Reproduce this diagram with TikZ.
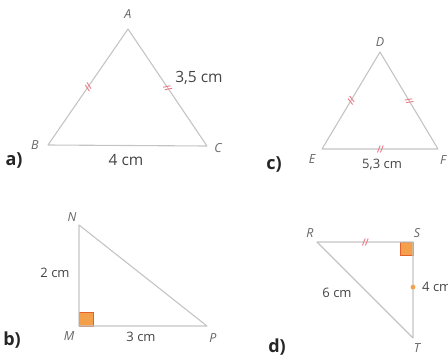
\documentclass[tikz,border=0pt]{standalone}
\usepackage{fontspec}
\setmainfont{Open Sans}
\usetikzlibrary{decorations.markings,calc}
\definecolor{edge}{HTML}{C4C4C4}
\definecolor{txt}{HTML}{444444}
\definecolor{vtx}{HTML}{666666}
\definecolor{tk}{HTML}{EE7A86}
\definecolor{sqfill}{HTML}{F4A04A}
\definecolor{sqdraw}{HTML}{E4602C}
\tikzset{
  tri/.style={draw=edge, line width=1.1pt, line join=round},
  vlab/.style={text=vtx, font=\itshape\fontsize{12.5}{12.5}\selectfont, inner sep=0pt},
  meas/.style={text=txt, font=\fontsize{15.5}{15.5}\selectfont, inner sep=0pt},
  measS/.style={text=txt, font=\fontsize{13}{13}\selectfont, inner sep=0pt},
  part/.style={text=black!85, font=\bfseries\fontsize{18}{18}\selectfont, inner sep=0pt},
  dticks/.style={postaction={decorate}, decoration={markings,
     mark=at position 0.5 with {\draw[tk, line width=0.9pt] (-2.6pt,-3.5pt)--(0.2pt,3.5pt) (0.4pt,-3.5pt)--(3.2pt,3.5pt);}}},
  sticks/.style={postaction={decorate}, decoration={markings,
     mark=at position #1 with {\fill[sqfill] (0,0) circle (2.4pt);}}},
  rsq/.style={fill=sqfill, draw=sqdraw, line width=0.8pt}
}
\begin{document}
\begin{tikzpicture}[x=1pt,y=-1pt]
\useasboundingbox (0,0) rectangle (448,360);
% ---- a)
\coordinate (A) at (128,29);
\coordinate (B) at (48,145);
\coordinate (C) at (207,146);
\draw[tri] (A) -- (B) -- (C) -- cycle;
\path[dticks] (B) -- (A);
\path[dticks] (A) -- (C);
\node[vlab] (lA) at (128,14) {A};
\node[vlab] (lB) at (35,145) {B};
\node[vlab] (lC) at (218,148) {C};
\node[meas] (mAC) at (199,78) {3,5 cm};
\node[meas] (mBC) at (126,160) {4 cm};
\node[part] (pa) at (14,160) {a)};
% ---- c)
\coordinate (D) at (380,52);
\coordinate (E) at (322,149);
\coordinate (F) at (438,149);
\draw[tri] (D) -- (E) -- (F) -- cycle;
\path[dticks] (E) -- (D);
\path[dticks] (D) -- (F);
\path[dticks] (E) -- (F);
\node[vlab] (lD) at (380,42) {D};
\node[vlab] (lE) at (312,159) {E};
\node[vlab] (lF) at (443,160) {F};
\node[measS] (mEF) at (382,165) {5,3 cm};
\node[part] (pc) at (274,164) {c)};
% ---- b)
\coordinate (N) at (79,225);
\coordinate (M) at (79,326);
\coordinate (P) at (207,326);
\draw[rsq] (M) rectangle ++(14,-14);
\draw[tri] (N) -- (M) -- (P) -- cycle;
\node[vlab] (lN) at (72,217) {N};
\node[vlab] (lM) at (69,336) {M};
\node[vlab] (lP) at (213,338) {P};
\node[measS] (mNM) at (55,273) {2 cm};
\node[measS] (mMP) at (141,337) {3 cm};
\node[part] (pb) at (12,340) {b)};
% ---- d)
\coordinate (R) at (317,242);
\coordinate (S) at (413,242);
\coordinate (T) at (413,338);
\draw[rsq] (S) rectangle ++(-13,13);
\draw[tri] (R) -- (S) -- (T) -- cycle;
\path[dticks] (R) -- (S);
\path[sticks=0.47] (S) -- (T);
\node[vlab] (lR) at (310,233) {R};
\node[vlab] (lS) at (417,233) {S};
\node[vlab] (lT) at (417,348) {T};
\node[measS] (mRT) at (337,293) {6 cm};
\node[measS, anchor=west] (mST) at (422,287) {4 cm};
\node[part] (pd) at (277,347) {d)};
\end{tikzpicture}
\end{document}
